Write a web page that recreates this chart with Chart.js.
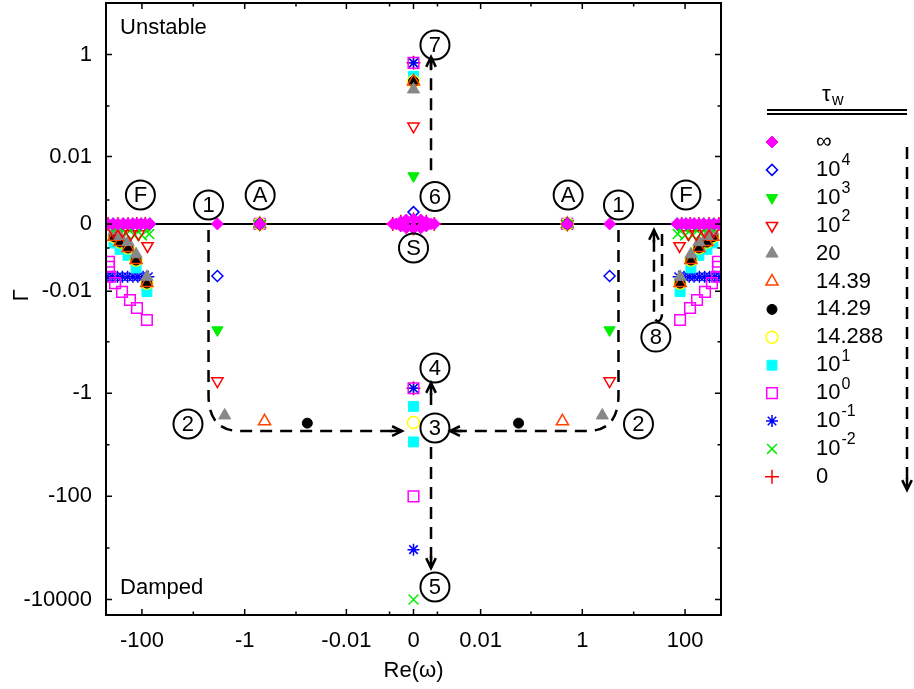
<!DOCTYPE html>
<html>
<head>
<meta charset="utf-8">
<script src="https://cdn.jsdelivr.net/npm/chart.js@4.4.1/dist/chart.umd.min.js"></script>
<style>
  html, body { margin: 0; padding: 0; background: #fff; }
</style>
</head>
<body>
<canvas id="roots" width="914" height="689"></canvas>
<script>
// symlog axis: values are drawn on T(v) = sign(v)*log10(1+|v|/C0)
const C0 = 5.2e-4;
const T = v => Math.sign(v) * Math.log10(1 + Math.abs(v) / C0);

const xTickVals = [-100, -1, -0.01, 0, 0.01, 1, 100];
const xTickLabels = ['-100', '-1', '-0.01', '0', '0.01', '1', '100'];
const yTickVals = [-10000, -100, -1, -0.01, 0, 0.01, 1];
const yTickLabels = ['-10000', '-100', '-1', '-0.01', '0', '0.01', '1'];
const xMinorVals = [-10, -0.1, -0.001, 0.001, 0.1, 10];
const yMinorVals = [-1000, -10, -0.1, -0.001, 0.001, 0.1];

const tauLabels = ['∞', '10^4', '10^3', '10^2', '20', '14.39', '14.29', '14.288', '10^1', '10^0', '10^-1', '10^-2', '0'];

// eigenvalues (Re(omega), Gamma) for each tau_w
const tauInf = [
  [-455, 0], [-364, 0], [-291, 0], [-232, 0], [-186, 0], [-150, 0], [-126, 0], [-104, 0], [-86, 0], [-70, 0],
  [70, 0], [86, 0], [104, 0], [126, 0], [150, 0], [186, 0], [232, 0], [291, 0], [364, 0], [455, 0],
  [-3.4, 0], [3.4, 0], [-0.51, 0], [0.51, 0],
  [-0.0008, 0], [-0.0006, 0], [-0.0004, 0.00005], [-0.0004, -0.00005], [-0.0002, 0.0001], [-0.0002, -0.0001],
  [0, 0.00012], [0, -0.00012], [0.0002, 0.0001], [0.0002, -0.0001], [0.0004, 0.00005], [0.0004, -0.00005],
  [0.0006, 0], [0.0008, 0]
];
const tau1e4 = [
  [-364, 0], [-232, 0], [-150, 0], [-104, 0], [-70, 0], [70, 0], [104, 0], [150, 0], [232, 0], [364, 0],
  [-0.51, 0], [0.51, 0], [-3.4, -0.0048], [3.4, -0.0048], [0, 0.00036]
];
const tau1e3 = [
  [-360, -0.00005], [-240, -0.00005], [-160, -0.00005], [-110, -0.00005], [-75, -0.00005],
  [75, -0.00005], [110, -0.00005], [160, -0.00005], [240, -0.00005], [360, -0.00005],
  [-0.51, 0], [0.51, 0], [-3.4, -0.059], [3.4, -0.059], [0, 0.0039]
];
const tau1e2 = [
  [-360, -0.0002], [-240, -0.0002], [-165, -0.0003], [-116, -0.0003], [-78, -0.00087],
  [78, -0.00087], [116, -0.0003], [165, -0.0003], [240, -0.0002], [360, -0.0002],
  [-0.51, 0], [0.51, 0], [-3.4, -0.58], [3.4, -0.58], [0, 0.04]
];
const tau20 = [
  [-349, -0.0002], [-267, -0.00037], [-186, -0.00065], [-130, -0.0015], [-80, -0.005],
  [80, -0.005], [130, -0.0015], [186, -0.00065], [267, -0.00037], [349, -0.0002],
  [-0.51, 0], [0.51, 0], [-2.45, -2.7], [2.45, -2.7], [0, 0.21]
];
const tau1439 = [
  [-349, -0.0004], [-267, -0.00065], [-186, -0.001], [-130, -0.0021], [-80, -0.0068],
  [80, -0.0068], [130, -0.0021], [186, -0.001], [267, -0.00065], [349, -0.0004],
  [-0.51, 0], [0.51, 0], [-0.41, -3.5], [0.41, -3.5], [0, 0.3]
];
const tau1429 = [
  [-349, -0.0004], [-267, -0.00065], [-186, -0.001], [-130, -0.0021], [-80, -0.0068],
  [80, -0.0068], [130, -0.0021], [186, -0.001], [267, -0.00065], [349, -0.0004],
  [-0.51, 0], [0.51, 0], [-0.06, -3.8], [0.057, -3.8], [0, 0.3]
];
const tau14288 = [
  [-349, -0.0004], [-267, -0.00065], [-186, -0.001], [-130, -0.0021], [-80, -0.0068],
  [80, -0.0068], [130, -0.0021], [186, -0.001], [267, -0.00065], [349, -0.0004],
  [-0.51, 0], [0.51, 0], [0, -3.7], [0, 0.3]
];
const tau10 = [
  [-349, -0.0007], [-267, -0.0011], [-186, -0.0016], [-130, -0.0032], [-80, -0.0102],
  [80, -0.0102], [130, -0.0032], [186, -0.0016], [267, -0.0011], [349, -0.0007],
  [-0.51, 0], [0.51, 0], [0, -1.8], [0, -8.8], [0, 0.38]
];
const tau1 = [
  [-437, -0.0023], [-437, -0.003], [-418, -0.005], [-333, -0.0068], [-244, -0.0103], [-171, -0.015], [-125, -0.0217], [-80, -0.0375],
  [80, -0.0375], [125, -0.0217], [171, -0.015], [244, -0.0103], [333, -0.0068], [418, -0.005], [437, -0.003], [437, -0.0023],
  [-0.51, 0], [0.51, 0], [0, -0.8], [0, -100], [0, 0.69]
];
const tau01 = [
  [-480, -0.005], [-380, -0.005], [-300, -0.005], [-240, -0.005], [-190, -0.005], [-150, -0.005], [-120, -0.005], [-95, -0.005], [-75, -0.005],
  [75, -0.005], [95, -0.005], [120, -0.005], [150, -0.005], [190, -0.005], [240, -0.005], [300, -0.005], [380, -0.005], [480, -0.005],
  [-0.51, 0], [0.51, 0], [0, -0.8], [0, -1080], [0, 0.69]
];
const tau001 = [
  [-200, -0.0003], [-140, -0.00035], [-100, -0.00035], [-72, -0.0003],
  [72, -0.0003], [100, -0.00035], [140, -0.00035], [200, -0.0003],
  [-0.51, 0], [0.51, 0], [0, -0.8], [0, -10000], [0, 0.69]
];
const tau0 = [
  [-455, 0], [-291, 0], [-186, 0], [-126, 0], [-86, 0], [86, 0], [126, 0], [186, 0], [291, 0], [455, 0],
  [-0.51, 0], [0.51, 0], [0, -0.8], [0, 0.69],
  [-0.0008, 0], [-0.0004, 0.00005], [0, 0.00012], [0, -0.00012], [0.0004, 0.00005], [0.0008, 0]
];
const tauSeries = [tauInf, tau1e4, tau1e3, tau1e2, tau20, tau1439, tau1429, tau14288, tau10, tau1, tau01, tau001, tau0];

// marker styles, same order as tauLabels
const styles = [
  { pointStyle: 'rectRot', radius: 6, rotation: 0, fill: '#ff00ff', stroke: '#ff00ff', bw: 1 },
  { pointStyle: 'rectRot', radius: 5.5, rotation: 0, fill: 'rgba(0,0,0,0)', stroke: '#0000ff', bw: 1.5 },
  { pointStyle: 'triangle', radius: 6.5, rotation: 180, fill: '#00ee00', stroke: '#00ee00', bw: 1 },
  { pointStyle: 'triangle', radius: 6.5, rotation: 180, fill: 'rgba(0,0,0,0)', stroke: '#ff0000', bw: 1.5 },
  { pointStyle: 'triangle', radius: 7, rotation: 0, fill: '#888888', stroke: '#888888', bw: 1 },
  { pointStyle: 'triangle', radius: 7, rotation: 0, fill: 'rgba(0,0,0,0)', stroke: '#ff4400', bw: 1.5 },
  { pointStyle: 'circle', radius: 5, rotation: 0, fill: '#000000', stroke: '#000000', bw: 1 },
  { pointStyle: 'circle', radius: 6, rotation: 0, fill: 'rgba(0,0,0,0)', stroke: '#ffff00', bw: 1.5 },
  { pointStyle: 'rect', radius: 7, rotation: 0, fill: '#00ffff', stroke: '#00ffff', bw: 1 },
  { pointStyle: 'rect', radius: 7.5, rotation: 0, fill: 'rgba(0,0,0,0)', stroke: '#ff00ff', bw: 1.5 },
  { pointStyle: 'star', radius: 6, rotation: 0, fill: 'rgba(0,0,0,0)', stroke: '#0000ff', bw: 1.5 },
  { pointStyle: 'crossRot', radius: 7, rotation: 0, fill: 'rgba(0,0,0,0)', stroke: '#00ee00', bw: 1.5 },
  { pointStyle: 'cross', radius: 7, rotation: 0, fill: 'rgba(0,0,0,0)', stroke: '#ff0000', bw: 1.5 }
];

// circled labels on the plot (placed in data units)
const markText = ['F', 'F', '1', '1', 'A', 'A', '6', 'S', '7', '4', '3', '5', '2', '2', '8'];
const markX = [-107, 104, -5.06, 5.06, -0.5, 0.53, 0.00084, 0, 0.00084, 0.00084, 0.00084, 0.00084, -12.7, 12.4, 27];
const markY = [0.00137, 0.00137, 0.00069, 0.00069, 0.00137, 0.00137, 0.00125, -0.001, 1.53, -0.324, -4.71, -5725, -3.95, -3.95, -0.081];

const FONT = '"Liberation Sans", Arial, sans-serif';
const FS = 22;

const px = (chart, v) => chart.scales.x.getPixelForValue(T(v));
const py = (chart, v) => chart.scales.y.getPixelForValue(T(v));

function head(ctx, x, y, ang) {
  const L = 11, a = 0.45;
  ctx.save();
  ctx.setLineDash([]);
  ctx.beginPath();
  ctx.moveTo(x - 12 * Math.cos(ang), y - 12 * Math.sin(ang));
  ctx.lineTo(x, y);
  ctx.moveTo(x - L * Math.cos(ang - a), y - L * Math.sin(ang - a));
  ctx.lineTo(x, y);
  ctx.lineTo(x - L * Math.cos(ang + a), y - L * Math.sin(ang + a));
  ctx.stroke();
  ctx.restore();
}

function supText(ctx, label, x, y) {
  const parts = label.split('^');
  ctx.font = FS + 'px ' + FONT;
  ctx.textAlign = 'left';
  ctx.textBaseline = 'middle';
  ctx.fillText(parts[0], x, y);
  if (parts.length > 1) {
    const w = ctx.measureText(parts[0]).width;
    ctx.font = '16px ' + FONT;
    ctx.fillText(parts[1], x + w + 1, y - 9);
  }
}

function marker(ctx, st, x, y) {
  ctx.save();
  ctx.fillStyle = st.fill;
  ctx.strokeStyle = st.stroke;
  ctx.lineWidth = st.bw;
  if (Chart.helpers && Chart.helpers.drawPoint) {
    Chart.helpers.drawPoint(ctx, { pointStyle: st.pointStyle, radius: st.radius, rotation: st.rotation, borderWidth: st.bw }, x, y);
  } else {
    ctx.beginPath(); ctx.arc(x, y, st.radius, 0, Math.PI * 2); ctx.fill(); ctx.stroke();
  }
  ctx.restore();
}

const decor = {
  id: 'decor',
  beforeDatasetsDraw(chart) {
    const { ctx, chartArea: a } = chart;
    ctx.save();
    ctx.strokeStyle = '#000';
    ctx.lineWidth = 2;
    ctx.beginPath();
    ctx.moveTo(a.left, py(chart, 0));
    ctx.lineTo(a.right, py(chart, 0));
    ctx.stroke();
    ctx.restore();
  },
  afterDatasetsDraw(chart) {
    const { ctx, chartArea: a } = chart;
    ctx.save();
    ctx.strokeStyle = '#000';
    ctx.fillStyle = '#000';

    // frame and inward ticks
    ctx.lineWidth = 2;
    ctx.strokeRect(a.left, a.top, a.right - a.left, a.bottom - a.top);
    ctx.lineWidth = 1.5;
    ctx.beginPath();
    xTickVals.concat(xMinorVals).forEach((v, i) => {
      const len = i < xTickVals.length ? 6 : 3.5;
      const x = px(chart, v);
      ctx.moveTo(x, a.bottom); ctx.lineTo(x, a.bottom - len);
      ctx.moveTo(x, a.top); ctx.lineTo(x, a.top + len);
    });
    yTickVals.concat(yMinorVals).forEach((v, i) => {
      const len = i < yTickVals.length ? 6 : 3.5;
      const y = py(chart, v);
      ctx.moveTo(a.left, y); ctx.lineTo(a.left + len, y);
      ctx.moveTo(a.right, y); ctx.lineTo(a.right - len, y);
    });
    ctx.stroke();

    // y axis title
    ctx.save();
    ctx.font = FS + 'px ' + FONT;
    ctx.textAlign = 'center';
    ctx.textBaseline = 'middle';
    ctx.translate(22, py(chart, -0.012));
    ctx.rotate(-Math.PI / 2);
    ctx.fillText('Γ', 0, 0);
    ctx.restore();

    // dashed paths
    ctx.lineWidth = 2.5;
    ctx.setLineDash([12, 8]);
    // left: 1 -> 2 -> 3
    let x1 = px(chart, -5.06), xc = px(chart, -1.23), yH = py(chart, -5.41);
    ctx.beginPath();
    ctx.moveTo(x1, py(chart, -0.00016));
    ctx.lineTo(x1, py(chart, -1.08));
    ctx.quadraticCurveTo(x1, yH, xc, yH);
    ctx.lineTo(px(chart, -0.00035), yH);
    ctx.stroke();
    head(ctx, px(chart, -0.00035), yH, 0);
    // right: 1 -> 2 -> 3
    x1 = px(chart, 5.06); xc = px(chart, 1.23);
    ctx.beginPath();
    ctx.moveTo(x1, py(chart, -0.00016));
    ctx.lineTo(x1, py(chart, -1.08));
    ctx.quadraticCurveTo(x1, yH, xc, yH);
    ctx.lineTo(px(chart, 0.00215), yH);
    ctx.stroke();
    head(ctx, px(chart, 0.00215), yH, Math.PI);
    // center column
    const xm = px(chart, 0.00062);
    ctx.beginPath();
    ctx.moveTo(xm, py(chart, 0.0052)); ctx.lineTo(xm, py(chart, 0.897));
    ctx.moveTo(xm, py(chart, -1.69)); ctx.lineTo(xm, py(chart, -0.632));
    ctx.moveTo(xm, py(chart, -11)); ctx.lineTo(xm, py(chart, -2454));
    ctx.stroke();
    head(ctx, xm, py(chart, 0.897), -Math.PI / 2);
    head(ctx, xm, py(chart, -0.632), -Math.PI / 2);
    head(ctx, xm, py(chart, -2454), Math.PI / 2);
    // loop near 8
    const xl = px(chart, 24.8), xr = px(chart, 35.6);
    ctx.beginPath();
    ctx.moveTo(xr, py(chart, -0.0003));
    ctx.lineTo(xr, py(chart, -0.027));
    ctx.bezierCurveTo(xr, py(chart, -0.045), xl, py(chart, -0.045), xl, py(chart, -0.027));
    ctx.lineTo(xl, py(chart, -0.00016));
    ctx.stroke();
    head(ctx, xl, py(chart, -0.00016), -Math.PI / 2);
    ctx.setLineDash([]);

    // circled labels
    ctx.lineWidth = 2;
    ctx.font = FS + 'px ' + FONT;
    ctx.textAlign = 'center';
    ctx.textBaseline = 'middle';
    markText.forEach((t, i) => {
      const x = px(chart, markX[i]), y = py(chart, markY[i]);
      ctx.beginPath();
      ctx.arc(x, y, 14.5, 0, Math.PI * 2);
      ctx.stroke();
      ctx.fillText(t, x, y + 1);
    });

    // region notes
    ctx.textAlign = 'left';
    ctx.fillText('Unstable', px(chart, -267), py(chart, 3.28));
    ctx.fillText('Damped', px(chart, -267), py(chart, -5970));

    // legend
    const lx = a.right;
    ctx.font = FS + 'px ' + FONT;
    ctx.textAlign = 'left';
    ctx.fillText('τ', lx + 101, a.top + 92);
    ctx.font = '16px ' + FONT;
    ctx.fillText('w', lx + 111, a.top + 98);
    ctx.lineWidth = 2;
    ctx.beginPath();
    ctx.moveTo(lx + 46, a.top + 107); ctx.lineTo(lx + 186, a.top + 107);
    ctx.moveTo(lx + 46, a.top + 111); ctx.lineTo(lx + 186, a.top + 111);
    ctx.stroke();
    tauLabels.forEach((lab, i) => {
      const y = a.top + 139 + i * 27.9;
      marker(ctx, styles[i], lx + 51, y);
      ctx.fillStyle = '#000';
      supText(ctx, lab, lx + 95, y);
    });
    ctx.lineWidth = 2.5;
    ctx.setLineDash([12, 8]);
    ctx.beginPath();
    ctx.moveTo(lx + 186, a.top + 144);
    ctx.lineTo(lx + 186, a.top + 486);
    ctx.stroke();
    head(ctx, lx + 186, a.top + 487, Math.PI / 2);
    ctx.restore();
  }
};

const datasets = tauSeries.map((pts, i) => ({
  label: tauLabels[i],
  data: pts.map(p => ({ x: T(p[0]), y: T(p[1]) })),
  pointStyle: styles[i].pointStyle,
  pointRadius: styles[i].radius,
  pointRotation: styles[i].rotation,
  pointBackgroundColor: styles[i].fill,
  pointBorderColor: styles[i].stroke,
  pointBorderWidth: styles[i].bw,
  showLine: false
}));

const tickFont = { family: FONT, size: FS };

new Chart(document.getElementById('roots'), {
  type: 'scatter',
  data: { datasets },
  options: {
    responsive: false,
    animation: false,
    events: [],
    layout: { autoPadding: false, padding: { left: 0, right: 193, top: 3, bottom: 0 } },
    plugins: { legend: { display: false }, tooltip: { enabled: false } },
    scales: {
      x: {
        type: 'linear',
        min: T(-500),
        max: T(500),
        afterBuildTicks: s => { s.ticks = xTickVals.map(v => ({ value: T(v) })); },
        afterFit: s => { s.height = 74; s.paddingLeft = 0; s.paddingRight = 0; },
        ticks: { callback: (v, i) => xTickLabels[i], font: tickFont, color: '#000', padding: 13, maxRotation: 0, autoSkip: false },
        grid: { display: false, drawTicks: false },
        border: { display: false },
        title: { display: true, text: 'Re(ω)', font: tickFont, color: '#000', padding: { top: 0, bottom: 5 } }
      },
      y: {
        type: 'linear',
        min: T(-20000),
        max: T(10),
        afterBuildTicks: s => { s.ticks = yTickVals.map(v => ({ value: T(v) })); },
        afterFit: s => { s.width = 106; s.paddingTop = 0; s.paddingBottom = 0; },
        ticks: { callback: (v, i) => yTickLabels[i], font: tickFont, color: '#000', padding: 14, autoSkip: false },
        grid: { display: false, drawTicks: false },
        border: { display: false }
      }
    }
  },
  plugins: [decor]
});
</script>
</body>
</html>
